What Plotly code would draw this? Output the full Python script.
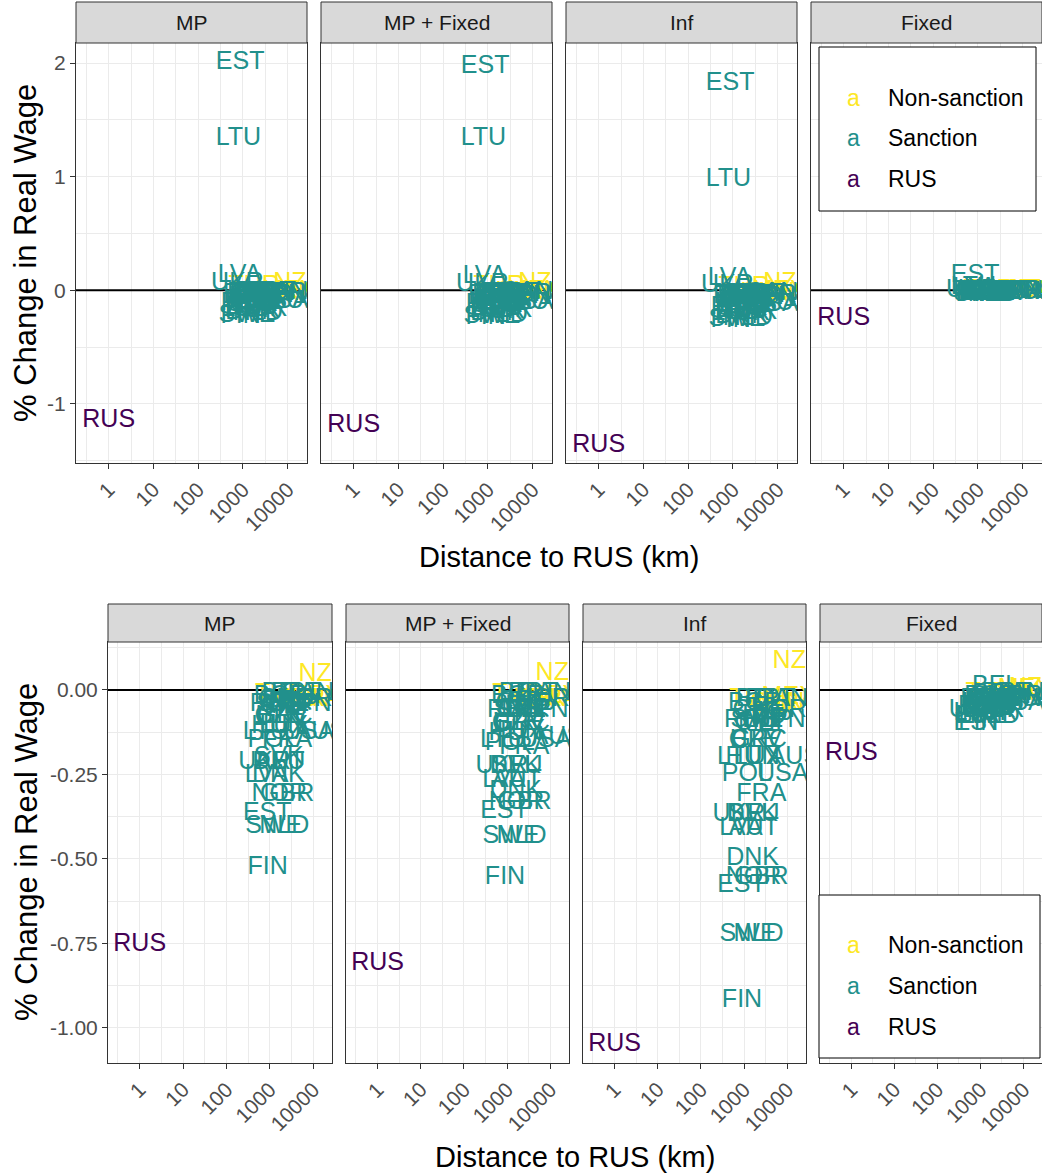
import plotly.graph_objects as go

# ---------------- data ----------------
countries = ["AUS","AUT","BEL","BGR","BRA","CAN","CHE","CHN","CYP","CZE","DEU","DNK","ESP","EST","FIN",
             "FRA","GBR","GRC","HRV","HUN","IND","IRL","ITA","JPN","KOR","LTU","LUX","LVA","MEX","MLT",
             "NLD","NOR","NZL","POL","PRT","ROU","RUS","SVK","SVN","SWE","TUR","UKR","USA"]
non_sanction = ["BRA","CHN","IND","MEX","NZL","TUR"]
groups = ["RUS" if c == "RUS" else ("Non-sanction" if c in non_sanction else "Sanction") for c in countries]
distance_km = [14500,1670,2250,1780,11700,7400,2200,5800,2300,1670,1610,1560,3440,865,890,
               2490,2500,2200,1870,1570,4340,2800,2380,7500,6600,790,2080,840,10700,2600,
               2140,1640,16000,1150,3900,1500,1,1600,1900,1230,1770,755,7800]

panel_names = ["MP", "MP + Fixed", "Inf", "Fixed"]

top_mp = [-0.10,-0.14,-0.02,-0.03,-0.03,-0.02,-0.03,-0.02,-0.05,-0.08,-0.15,-0.20,-0.05,2.00,-0.23,
          -0.10,-0.17,-0.07,-0.07,-0.10,-0.02,-0.05,-0.04,-0.05,-0.03,1.33,-0.10,0.13,-0.01,-0.05,
          -0.21,-0.18,0.06,-0.12,-0.02,-0.04,-1.15,-0.13,-0.05,-0.22,0.03,0.06,-0.10]
top_mp_fixed = [-0.11,-0.15,-0.03,-0.04,-0.03,-0.02,-0.04,-0.02,-0.06,-0.09,-0.16,-0.21,-0.06,1.97,-0.24,
                -0.11,-0.18,-0.08,-0.08,-0.11,-0.02,-0.06,-0.05,-0.06,-0.04,1.33,-0.11,0.12,-0.01,-0.06,
                -0.22,-0.19,0.06,-0.13,-0.03,-0.05,-1.19,-0.14,-0.06,-0.23,0.03,0.05,-0.11]
top_inf = [-0.12,-0.17,-0.04,-0.05,-0.04,-0.03,-0.05,-0.03,-0.07,-0.10,-0.18,-0.23,-0.07,1.82,-0.27,
           -0.13,-0.20,-0.09,-0.09,-0.12,-0.03,-0.07,-0.06,-0.07,-0.05,0.97,-0.12,0.10,-0.01,-0.07,
           -0.25,-0.21,0.06,-0.15,-0.04,-0.06,-1.37,-0.16,-0.07,-0.26,0.02,0.04,-0.13]
top_fixed = [-0.02,-0.03,-0.01,-0.01,-0.01,-0.01,-0.01,-0.01,-0.02,-0.02,-0.03,-0.03,-0.02,0.13,-0.04,
             -0.02,-0.03,-0.02,-0.02,-0.02,-0.01,-0.02,-0.02,-0.02,-0.01,0.02,-0.02,0.01,0.00,-0.02,
             -0.04,-0.03,0.00,-0.03,-0.01,-0.02,-0.25,-0.03,-0.02,-0.04,0.00,0.00,-0.02]

bot_mp = [-0.127,-0.215,-0.01,-0.02,-0.03,-0.01,-0.03,-0.03,-0.05,-0.08,-0.215,-0.255,-0.045,-0.365,-0.525,
          -0.15,-0.31,-0.08,-0.08,-0.11,-0.03,-0.045,-0.04,-0.045,-0.03,-0.127,-0.11,-0.255,-0.02,-0.05,
          -0.405,-0.31,0.045,-0.15,-0.01,-0.045,-0.755,-0.20,-0.045,-0.405,-0.015,-0.215,-0.127]
bot_mp_fixed = [-0.14,-0.27,-0.01,-0.02,-0.03,-0.01,-0.04,-0.03,-0.06,-0.10,-0.228,-0.30,-0.06,-0.36,-0.557,
                -0.17,-0.335,-0.10,-0.10,-0.13,-0.03,-0.06,-0.05,-0.06,-0.03,-0.15,-0.12,-0.27,-0.02,-0.06,
                -0.435,-0.335,0.047,-0.16,-0.01,-0.06,-0.81,-0.228,-0.06,-0.435,-0.015,-0.228,-0.15]
bot_inf = [-0.20,-0.41,-0.03,-0.04,-0.04,-0.03,-0.06,-0.04,-0.10,-0.15,-0.37,-0.50,-0.09,-0.58,-0.92,
           -0.31,-0.555,-0.15,-0.15,-0.20,-0.05,-0.09,-0.08,-0.09,-0.06,-0.20,-0.20,-0.41,-0.024,-0.10,
           -0.725,-0.555,0.083,-0.25,-0.03,-0.09,-1.05,-0.37,-0.09,-0.725,-0.03,-0.37,-0.25]
bot_fixed = [-0.03,-0.05,0.01,-0.02,-0.01,-0.01,-0.02,-0.01,-0.03,-0.04,-0.05,-0.06,-0.03,-0.10,-0.10,
             -0.04,-0.06,-0.03,-0.03,-0.04,-0.01,-0.03,-0.03,-0.03,-0.02,-0.07,-0.04,-0.08,0.0,-0.03,
             -0.08,-0.07,0.003,-0.05,-0.01,-0.03,-0.19,-0.05,-0.03,-0.08,-0.01,-0.06,-0.04]

legend_labels = ["Non-sanction", "Sanction", "RUS"]
x_tick_vals = [1, 10, 100, 1000, 10000]
x_tick_text = ["1", "10", "100", "1000", "10000"]
top_y_ticks = [-1, 0, 1, 2]
top_y_text = ["-1", "0", "1", "2"]
bot_y_ticks = [-1.0, -0.75, -0.5, -0.25, 0.0]
bot_y_text = ["-1.00", "-0.75", "-0.50", "-0.25", "0.00"]
reference_y = 0.0

# ---------------- style / layout ----------------
W, H = 1042, 1176
FONT = "Liberation Sans, Arial, Helvetica, sans-serif"
colors = {"Non-sanction": "#FDE725", "Sanction": "#21908C", "RUS": "#440154"}
draw_order = ["Non-sanction", "Sanction", "RUS"]

top_x = [(76, 307), (321, 552), (566, 797), (811, 1042)]
top_y = (43, 463)
top_strip = (2, 43)
bot_x = [(108, 332), (346, 569), (583, 806), (820, 1042)]
bot_y = (642, 1063)
bot_strip = (604, 642)
x_range = [-0.73, 4.43]
top_range = [-1.52, 2.176]
bot_range = [-1.104, 0.142]

def px(x):
    return x / W

def py(y):
    return 1 - y / H

fig = go.Figure()
layout = dict(width=W, height=H, margin=dict(l=0, r=0, t=0, b=0),
              paper_bgcolor="white", plot_bgcolor="white", showlegend=False,
              font=dict(family=FONT))
shapes = []
annotations = []

panels = []
for i, vals in enumerate([top_mp, top_mp_fixed, top_inf, top_fixed]):
    panels.append(("top", i, vals))
for i, vals in enumerate([bot_mp, bot_mp_fixed, bot_inf, bot_fixed]):
    panels.append(("bot", i, vals))

for k, (row, i, vals) in enumerate(panels):
    n = k + 1
    xs = top_x[i] if row == "top" else bot_x[i]
    ys = top_y if row == "top" else bot_y
    ss = top_strip if row == "top" else bot_strip
    yr = top_range if row == "top" else bot_range
    yt = (top_y_ticks, top_y_text) if row == "top" else (bot_y_ticks, bot_y_text)
    yminor = [-1.5, -0.5, 0.5, 1.5] if row == "top" else [-1.125, -0.875, -0.625, -0.375, -0.125, 0.125]
    xa = "x" if n == 1 else f"x{n}"
    ya = "y" if n == 1 else f"y{n}"

    # horizontal reference line at 0 (geom_hline), drawn beneath the labels
    fig.add_trace(go.Scatter(
        x=[10 ** x_range[0], 10 ** x_range[1]], y=[reference_y, reference_y], mode="lines",
        line=dict(color="black", width=2), hoverinfo="skip", cliponaxis=True,
        xaxis=xa, yaxis=ya))

    for g in draw_order:
        idx = [j for j, gg in enumerate(groups) if gg == g]
        fig.add_trace(go.Scatter(
            x=[distance_km[j] for j in idx], y=[vals[j] for j in idx],
            text=[countries[j] for j in idx], mode="text",
            textposition="middle center",
            textfont=dict(family=FONT, size=25, color=colors[g]),
            cliponaxis=True, hoverinfo="skip", xaxis=xa, yaxis=ya))

    layout[f"xaxis{n}"] = dict(
        domain=[px(xs[0]), px(xs[1])], anchor=ya, type="log", range=x_range,
        tickvals=x_tick_vals, ticktext=x_tick_text, tickangle=-45,
        tickfont=dict(family=FONT, size=21, color="#4D4D4D"),
        ticks="outside", ticklen=5, tickcolor="#333333", tickwidth=1,
        showgrid=True, gridcolor="#EBEBEB", gridwidth=1.2,
        minor=dict(tickvals=[10 ** v for v in [-0.5, 0.5, 1.5, 2.5, 3.5]],
                   showgrid=True, gridcolor="#EBEBEB", gridwidth=0.6, ticks=""),
        showline=True, linecolor="#333333", linewidth=1, mirror=True,
        zeroline=False, fixedrange=True)
    layout[f"yaxis{n}"] = dict(
        domain=[py(ys[1]), py(ys[0])], anchor=xa, range=yr,
        tickvals=yt[0], ticktext=yt[1],
        showticklabels=(i == 0),
        ticks="outside" if i == 0 else "", ticklen=5, tickcolor="#333333", tickwidth=1,
        tickfont=dict(family=FONT, size=21, color="#4D4D4D"),
        showgrid=True, gridcolor="#EBEBEB", gridwidth=1.2,
        minor=dict(tickvals=yminor, showgrid=True, gridcolor="#EBEBEB", gridwidth=0.6, ticks=""),
        showline=True, linecolor="#333333", linewidth=1, mirror=True,
        zeroline=False, fixedrange=True)

    # strip
    shapes.append(dict(type="rect", xref="paper", yref="paper",
                       x0=px(xs[0]), x1=px(xs[1]), y0=py(ss[1]), y1=py(ss[0]),
                       fillcolor="#D9D9D9", line=dict(color="#333333", width=1), layer="above"))
    annotations.append(dict(xref="paper", yref="paper", x=px((xs[0] + xs[1]) / 2),
                            y=py((ss[0] + ss[1]) / 2), text=panel_names[i], showarrow=False,
                            xanchor="center", yanchor="middle",
                            font=dict(family=FONT, size=21, color="#1A1A1A")))

# axis titles
for (cx, cy) in [(559, 557), (575, 1157)]:
    annotations.append(dict(xref="paper", yref="paper", x=px(cx), y=py(cy), text="Distance to RUS (km)",
                            showarrow=False, xanchor="center", yanchor="middle",
                            font=dict(family=FONT, size=29, color="black")))
for (cx, cy) in [(26, 253), (26, 852)]:
    annotations.append(dict(xref="paper", yref="paper", x=px(cx), y=py(cy), text="% Change in Real Wage",
                            showarrow=False, xanchor="center", yanchor="middle", textangle=-90,
                            font=dict(family=FONT, size=31, color="black")))

# legends (drawn manually as ggplot-style text keys)
for (bx0, bx1, by0, by1, item_y) in [(819, 1036, 47, 211, [98, 138, 179]),
                                      (819, 1040, 895, 1058, [945, 986, 1027])]:
    shapes.append(dict(type="rect", xref="paper", yref="paper",
                       x0=px(bx0), x1=px(bx1), y0=py(by1), y1=py(by0),
                       fillcolor="white", line=dict(color="black", width=1), layer="above"))
    for lab, yy in zip(legend_labels, item_y):
        annotations.append(dict(xref="paper", yref="paper", x=px(853), y=py(yy), text="a",
                                showarrow=False, xanchor="center", yanchor="middle",
                                font=dict(family=FONT, size=23, color=colors[lab])))
        annotations.append(dict(xref="paper", yref="paper", x=px(886), y=py(yy), text=lab,
                                showarrow=False, xanchor="left", yanchor="middle",
                                font=dict(family=FONT, size=23, color="black")))

layout["shapes"] = shapes
layout["annotations"] = annotations
fig.update_layout(**layout)
fig.write_html("out.html")
